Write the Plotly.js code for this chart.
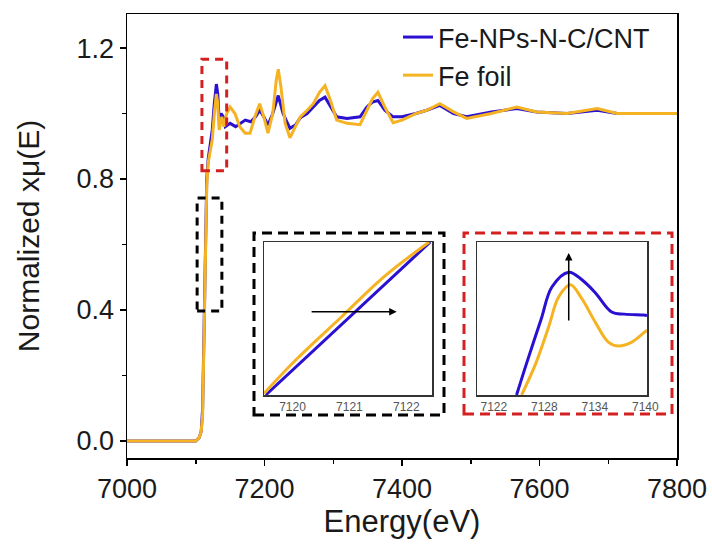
<!DOCTYPE html>
<html>
<head>
<meta charset="utf-8">
<script src="https://cdn.plot.ly/plotly-3.0.1.min.js"></script>
<style>html,body{margin:0;padding:0;background:#fff}#chart{width:712px;height:559px}</style>
</head>
<body>
<div id="chart"></div>
<script>
// ---- main spectrum data ----
const energyNP = [7000,7050,7100,7105,7108,7110,7112,7114,7116,7118,7121,7124,7127,7130,7132,7134,7137,7140,7143,7150,7158,7165,7172,7180,7187,7193,7199,7205,7212,7220,7227,7237,7245,7252,7262,7271,7280,7288,7296,7305,7320,7339,7349,7357,7365,7375,7387,7400,7420,7436,7455,7475,7494,7530,7567,7596,7640,7684,7713,7750,7800];
const muNP = [0,0,0,0.01,0.03,0.1,0.35,0.6,0.8,0.86,0.9,0.95,1.03,1.09,1.06,0.98,1.0,0.99,0.96,0.97,0.96,0.97,0.98,0.975,0.99,1.01,0.99,0.965,1.0,1.055,1.0,0.955,0.965,0.987,1.0,1.02,1.04,1.05,1.02,0.99,0.985,0.99,1.02,1.035,1.04,1.01,0.99,0.99,1.0,1.01,1.025,1.0,0.99,1.005,1.015,1.005,1.0,1.01,1.0,1.0,1.0];
const energyFoil = [7000,7050,7100,7105,7108,7110,7112,7114,7116,7118,7121,7124,7127,7130,7132,7134,7136,7138,7141,7145,7150,7157,7164,7172,7179,7186,7193,7199,7205,7212,7217,7220,7224,7230,7237,7245,7252,7262,7271,7280,7288,7296,7305,7320,7339,7349,7357,7365,7375,7387,7400,7420,7436,7455,7475,7494,7530,7567,7596,7640,7684,7713,7750,7800];
const muFoil = [0,0,0,0.01,0.03,0.08,0.3,0.55,0.78,0.85,0.88,0.92,1.0,1.06,1.03,0.95,0.97,0.99,0.96,1.0,1.02,1.0,0.96,0.94,0.94,0.99,1.03,0.99,0.94,1.0,1.1,1.135,1.08,0.97,0.926,0.96,0.99,1.01,1.03,1.065,1.085,1.04,0.98,0.97,0.966,1.01,1.045,1.065,1.02,0.972,0.98,1.0,1.01,1.03,1.005,0.985,1.0,1.02,1.005,1.0,1.015,1.0,1.0,1.0];

// ---- inset 1 (edge) ----
const inset1EnergyNP = [7119.53,7120.2,7120.99,7121.775,7122.42];
const inset1MuNP = [0.4,0.47,0.552,0.633,0.7];
const inset1EnergyFoil = [7119.5,7120.07,7120.85,7121.62,7122.4];
const inset1MuFoil = [0.403,0.47,0.552,0.633,0.7];

// ---- inset 2 (white line) ----
const inset2EnergyNP = [7124.7,7125.9,7127.6,7128.9,7130.9,7132.5,7134.1,7136.0,7137.5,7139.8,7140.2];
const inset2MuNP = [0.8,0.873,0.972,1.047,1.081,1.063,1.033,0.99,0.985,0.983,0.982];
const inset2EnergyFoil = [7125.3,7127.0,7128.5,7129.7,7131.1,7132.4,7134.1,7135.6,7136.8,7138.4,7139.8,7140.2];
const inset2MuFoil = [0.8,0.873,0.955,1.024,1.052,1.022,0.965,0.921,0.912,0.921,0.942,0.948];

const seriesNames = ['Fe-NPs-N-C/CNT','Fe foil'];
const blue = '#2a10d0';
const orange = '#f5b323';

const traces = [
  {x: energyNP, y: muNP, name: seriesNames[0], mode:'lines', line:{color:blue,width:3}, xaxis:'x', yaxis:'y'},
  {x: energyFoil, y: muFoil, name: seriesNames[1], mode:'lines', line:{color:orange,width:3}, xaxis:'x', yaxis:'y'},
  {x: inset1EnergyNP, y: inset1MuNP, mode:'lines', line:{color:blue,width:3}, xaxis:'x2', yaxis:'y2', showlegend:false},
  {x: inset1EnergyFoil, y: inset1MuFoil, mode:'lines', line:{color:orange,width:3,shape:'spline'}, xaxis:'x2', yaxis:'y2', showlegend:false},
  {x: inset2EnergyNP, y: inset2MuNP, mode:'lines', line:{color:blue,width:3,shape:'spline'}, xaxis:'x3', yaxis:'y3', showlegend:false},
  {x: inset2EnergyFoil, y: inset2MuFoil, mode:'lines', line:{color:orange,width:3,shape:'spline'}, xaxis:'x3', yaxis:'y3', showlegend:false}
];

const W = 550, H = 444, L = 127, T = 14;
const px = v => (v - L) / W;
const py = v => (T + H - v) / H;

const insetAxis = {showline:true, mirror:true, linecolor:'#333', linewidth:1.5, showgrid:false, zeroline:false, ticks:'', fixedrange:true};

const layout = {
  width: 712, height: 559,
  margin: {l: L, r: 712 - L - W, t: T, b: 559 - T - H},
  paper_bgcolor: '#fff', plot_bgcolor: '#fff',
  font: {family: 'Liberation Sans, Arial, sans-serif', color: '#1a1a1a'},
  showlegend: true,
  legend: {x: px(398), y: py(13), xanchor:'left', yanchor:'top', bgcolor:'rgba(0,0,0,0)', font:{size:27, color:'#1a1a1a'}, tracegroupgap:0},
  xaxis: {
    range: [7000, 7800], dtick: 200, tick0: 7000,
    showline: true, mirror: true, linecolor: '#000', linewidth: 1.5,
    ticks: 'outside', ticklen: 6, tickwidth: 1.5, tickcolor:'#000',
    minor: {dtick: 100, ticks: 'outside', ticklen: 4, tickwidth: 1.5, tickcolor:'#000'},
    showgrid: false, zeroline: false,
    tickfont: {size: 27},
    title: {text: 'Energy(eV)', font: {size: 31}, standoff: 4}
  },
  yaxis: {
    range: [-0.052, 1.304], dtick: 0.4, tick0: 0, tickformat: '.1f',
    showline: true, mirror: true, linecolor: '#000', linewidth: 1.5,
    ticks: 'outside', ticklen: 6, tickwidth: 1.5, tickcolor:'#000',
    minor: {dtick: 0.2, ticks: 'outside', ticklen: 4, tickwidth: 1.5, tickcolor:'#000'},
    showgrid: false, zeroline: false,
    tickfont: {size: 27},
    title: {text: 'Normalized xμ(E)', font: {size: 30}, standoff: 28}
  },
  xaxis2: Object.assign({}, insetAxis, {domain: [px(264), px(432)], anchor: 'y2', range: [7119.5, 7122.45], tickvals:[7120,7121,7122], tickfont:{size:12,color:'#555'}}),
  yaxis2: Object.assign({}, insetAxis, {domain: [py(395), py(242)], anchor: 'x2', range: [0.4, 0.7], showticklabels:false}),
  xaxis3: Object.assign({}, insetAxis, {domain: [px(477), px(647)], anchor: 'y3', range: [7120, 7140.2], tickvals:[7122,7128,7134,7140], tickfont:{size:12,color:'#555'}}),
  yaxis3: Object.assign({}, insetAxis, {domain: [py(395), py(242)], anchor: 'x3', range: [0.8, 1.15], showticklabels:false}),
  shapes: [
    {type:'rect', xref:'x', yref:'y', x0:7102, x1:7138, y0:0.397, y1:0.742, line:{color:'#000', width:3, dash:'8px,6px'}},
    {type:'rect', xref:'x', yref:'y', x0:7109, x1:7145, y0:0.825, y1:1.166, line:{color:'#d42020', width:3, dash:'8px,6px'}},
    {type:'rect', xref:'paper', yref:'paper', x0:px(254), x1:px(444), y0:py(415), y1:py(233), line:{color:'#000', width:3, dash:'10px,6px'}},
    {type:'rect', xref:'paper', yref:'paper', x0:px(464), x1:px(672), y0:py(414), y1:py(233), line:{color:'#d42020', width:3, dash:'10px,6px'}}
  ],
  annotations: [
    {xref:'x2', yref:'y2', axref:'x2', ayref:'y2', x:7121.83, y:0.563, ax:7120.31, ay:0.563, showarrow:true, arrowhead:2, arrowsize:1, arrowwidth:1.5, arrowcolor:'#000', text:''},
    {xref:'x3', yref:'y3', axref:'x3', ayref:'y3', x:7130.9, y:1.125, ax:7130.9, ay:0.967, showarrow:true, arrowhead:2, arrowsize:1, arrowwidth:1.5, arrowcolor:'#000', text:''}
  ]
};

Plotly.newPlot('chart', traces, layout, {displayModeBar:false, staticPlot:true});
</script>
</body>
</html>
